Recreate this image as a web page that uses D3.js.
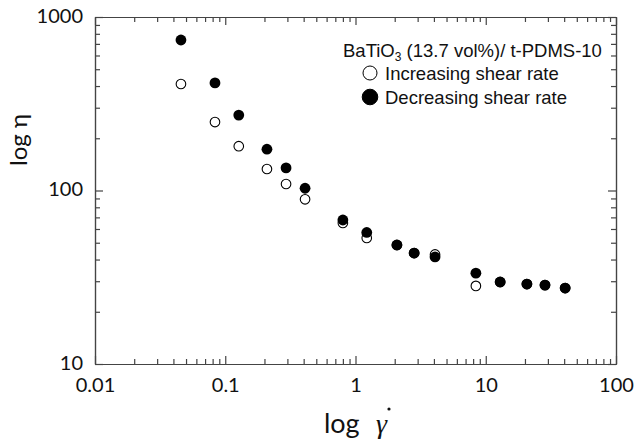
<!DOCTYPE html>
<html>
<head>
<meta charset="utf-8">
<script src="https://cdn.jsdelivr.net/npm/d3@7"></script>
<style>
  body { margin: 0; background: #fff; }
  .tick text { font-family: Lato, "DejaVu Sans", sans-serif; font-size: 20px; fill: #111; }
</style>
</head>
<body>
<svg id="chart"></svg>
<script>
// shear rate (1/s) and viscosity
const shearRate  = [0.0457, 0.0834, 0.127, 0.209, 0.293, 0.41, 0.80, 1.22, 2.08, 2.82, 4.08, 8.4, 12.9, 20.7, 28.5, 40.7];
const increasing = [411, 248, 180, 133, 109, 89, 65, 53.3, 48.5, 43.6, 42.8, 28.2, 29.7, 28.9, 28.5, 27.4];
const decreasing = [737, 417, 272, 173, 135, 103, 67.6, 57.3, 48.5, 43.6, 41.4, 33.4, 29.7, 28.9, 28.5, 27.4];

const xMajor = [0.01, 0.1, 1, 10, 100];
const xLabels = ['0.01', '0.1', '1', '10', '100'];
const yMajor = [10, 100, 1000];
const yLabels = ['10', '100', '1000'];

const legendTitle = 'BaTiO';
const legendNames = ['Increasing shear rate', 'Decreasing shear rate'];

const width = 634, height = 443;
const margin = {top: 17, right: 18, bottom: 79, left: 95};
const iw = width - margin.left - margin.right;
const ih = height - margin.top - margin.bottom;

const svg = d3.select('#chart').attr('width', width).attr('height', height);
const g = svg.append('g').attr('transform', `translate(${margin.left},${margin.top})`);

const x = d3.scaleLog().domain([0.01, 100]).range([0, iw]);
const y = d3.scaleLog().domain([10, 1000]).range([ih, 0]);

function minors(lo, hi) {
    const out = [];
    for (let d = lo; d < hi; d *= 10)
        for (let k = 2; k <= 9; k++) out.push(d * k);
    return out;
}
const xMinor = minors(0.01, 100);
const yMinor = minors(10, 1000);
const axisColor = '#444';

function styleAxis(sel) {
    sel.selectAll('path, line').attr('stroke', axisColor).attr('stroke-width', 1.2);
}

// bottom
g.append('g').attr('transform', `translate(0,${ih})`)
    .call(d3.axisBottom(x).tickValues(xMajor).tickSize(-8).tickSizeOuter(0).tickPadding(23)
        .tickFormat((d, i) => xLabels[i]))
    .call(styleAxis);
g.append('g').attr('transform', `translate(0,${ih})`)
    .call(d3.axisBottom(x).tickValues(xMinor).tickSize(-5).tickSizeOuter(0).tickFormat(''))
    .call(styleAxis);
// top
g.append('g')
    .call(d3.axisTop(x).tickValues(xMajor).tickSize(-8).tickSizeOuter(0).tickFormat(''))
    .call(styleAxis);
g.append('g')
    .call(d3.axisTop(x).tickValues(xMinor).tickSize(-5).tickSizeOuter(0).tickFormat(''))
    .call(styleAxis);
// left
g.append('g')
    .call(d3.axisLeft(y).tickValues(yMajor).tickSize(-8).tickSizeOuter(0).tickPadding(12)
        .tickFormat((d, i) => yLabels[i]))
    .call(styleAxis);
g.append('g')
    .call(d3.axisLeft(y).tickValues(yMinor).tickSize(-5).tickSizeOuter(0).tickFormat(''))
    .call(styleAxis);
// right
g.append('g').attr('transform', `translate(${iw},0)`)
    .call(d3.axisRight(y).tickValues(yMajor).tickSize(-8).tickSizeOuter(0).tickFormat(''))
    .call(styleAxis);
g.append('g').attr('transform', `translate(${iw},0)`)
    .call(d3.axisRight(y).tickValues(yMinor).tickSize(-5).tickSizeOuter(0).tickFormat(''))
    .call(styleAxis);

g.selectAll('.tick text').attr('dy', null).attr('dominant-baseline', 'middle');

// data: open first, filled over it
g.selectAll('circle.inc')
    .data(shearRate.map((s, i) => [s, increasing[i]]))
    .enter().append('circle')
    .attr('class', 'inc')
    .attr('cx', d => x(d[0]))
    .attr('cy', d => y(d[1]))
    .attr('r', 4.8)
    .attr('fill', '#fff')
    .attr('stroke', '#000')
    .attr('stroke-width', 1.1);

g.selectAll('circle.dec')
    .data(shearRate.map((s, i) => [s, decreasing[i]]))
    .enter().append('circle')
    .attr('class', 'dec')
    .attr('cx', d => x(d[0]))
    .attr('cy', d => y(d[1]))
    .attr('r', 5.4)
    .attr('fill', '#000');

// legend
const lg = svg.append('g').attr('font-family', '"Liberation Sans", Arial, sans-serif').attr('fill', '#111');
const t = lg.append('text').attr('x', 343).attr('y', 57).attr('font-size', 18.5);
t.append('tspan').text(legendTitle);
t.append('tspan').attr('font-size', 12).attr('dy', 4).text('3');
t.append('tspan').attr('dy', -4).text(' (13.7 vol%)/ t-PDMS-10');

legendNames.forEach((name, i) => {
    const cy = 73 + i * 24;
    lg.append('circle').attr('cx', 370).attr('cy', cy).attr('r', i === 0 ? 7 : 7.8)
        .attr('fill', i === 0 ? '#fff' : '#000').attr('stroke', '#000').attr('stroke-width', 1);
    lg.append('text').attr('x', 385).attr('y', cy + 7).attr('font-size', 18.5).text(name);
});

// axis titles
svg.append('text')
    .attr('transform', 'translate(27,140) rotate(-90)')
    .attr('text-anchor', 'middle')
    .attr('font-family', 'Lato, "DejaVu Sans", sans-serif')
    .attr('font-size', 24)
    .attr('fill', '#111')
    .text('log η');

svg.append('text')
    .attr('x', 324).attr('y', 433)
    .attr('font-family', 'Lato, "DejaVu Sans", sans-serif')
    .attr('font-size', 27)
    .attr('fill', '#111')
    .text('log');
svg.append('text')
    .attr('x', 376).attr('y', 433)
    .attr('font-family', '"Liberation Serif", "DejaVu Serif", serif')
    .attr('font-style', 'italic')
    .attr('font-size', 28)
    .attr('fill', '#111')
    .text('γ');
svg.append('circle').attr('cx', 389).attr('cy', 409).attr('r', 1.6).attr('fill', '#111');
</script>
</body>
</html>
